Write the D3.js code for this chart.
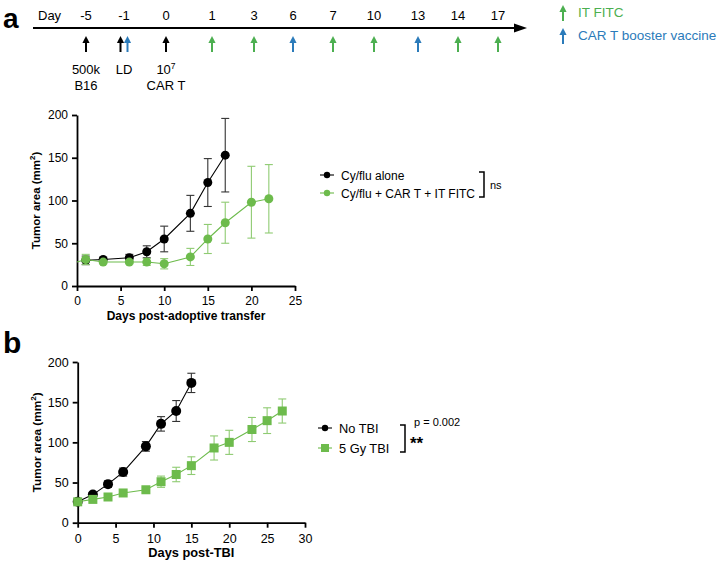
<!DOCTYPE html>
<html><head><meta charset="utf-8">
<script src="https://cdn.jsdelivr.net/npm/d3@7"></script>
<style>body{margin:0;background:#fff;font-family:Arial,"Liberation Sans",sans-serif}</style>
</head><body><svg id="c" width="722" height="569"></svg>
<script>
// ---- Timeline data ----
const timelineDays = ["-5","-1","0","1","3","6","7","10","13","14","17"];
const timelineArrows = [
  {day:"-5", type:"black"}, {day:"-1", type:"black"}, {day:"-1", type:"blue"},
  {day:"0", type:"black"}, {day:"1", type:"green"}, {day:"3", type:"green"},
  {day:"6", type:"blue"}, {day:"7", type:"green"}, {day:"10", type:"green"},
  {day:"13", type:"blue"}, {day:"14", type:"green"}, {day:"17", type:"green"}
];
const timelineNotes = [
  {day:"-5", lines:[["500k"],["B16"]]}, {day:"-1", lines:[["LD"]]}, {day:"0", lines:[["10","7"],["CAR T"]]}
];
const timelineLegend = [{type:"green", label:"IT FITC"},{type:"blue", label:"CAR T booster vaccine"}];

// ---- Panel a data ----
const aCyDays = [1,3,6,8,10,13,15,17];
const aCyMean = [30,31,33,40,55,85,121,153];
const aCyErr  = [5,2,4,7,15,21,28,43];
const aCarDays = [0,1,3,6,8,10,13,15,17,20,22];
const aCarMean = [28,31,28,28,28,26,34,55,74,98,102];
const aCarErr  = [0,6,2,2,4,6,10,17,24,42,40];
const aXTicks = [0,5,10,15,20,25];
const aYTicks = [0,50,100,150,200];

// ---- Panel b data ----
const bNoDays = [0,2,4,6,9,11,13,15];
const bNoMean = [26,35,48,63,95,123,139,174];
const bNoErr  = [2,2,4,5,6,9,13,12];
const bTbiDays = [0,2,4,6,9,11,13,15,18,20,23,25,27];
const bTbiMean = [26,29,32,37,41,51,60,71,93,100,116,127,139];
const bTbiErr  = [2,2,2,2,3,7,9,11,15,15,15,16,15];
const bXTicks = [0,5,10,15,20,25,30];
const bYTicks = [0,50,100,150,200];

const GREEN = "#6dbb4c", AGREEN = "#4caf50", BLUE = "#2b7bba";
const arrowColor = {black:"#000", green:AGREEN, blue:BLUE};
const svg = d3.select("#c");
const FONT = "Arial, 'Liberation Sans', sans-serif";

// ---- Timeline ----
svg.append("text").attr("x",3).attr("y",28).attr("font-size",28).attr("font-weight","bold").attr("font-family",FONT).text("a");
svg.append("text").attr("x",38).attr("y",20).attr("font-size",13).attr("font-family",FONT).text("Day");
const tx = d3.scalePoint().domain(timelineDays).range([86,498]);
const tpos = {"-5":86,"-1":124,"0":166,"1":212,"3":254,"6":293,"7":333,"10":374,"13":418,"14":458,"17":498};
svg.selectAll(".tday").data(timelineDays).join("text")
  .attr("x",d=>tpos[d]).attr("y",20).attr("text-anchor","middle").attr("font-size",13).attr("font-family",FONT).text(d=>d);
svg.append("line").attr("x1",33).attr("x2",518).attr("y1",28).attr("y2",28).attr("stroke","#000").attr("stroke-width",2);
svg.append("path").attr("d","M514,23.5 L527,28 L514,32.5 Z").attr("fill","#000");
function arrow(g,x,y1,y2,color){
  g.append("line").attr("x1",x).attr("x2",x).attr("y1",y1+5).attr("y2",y2).attr("stroke",color).attr("stroke-width",2);
  g.append("path").attr("d",`M${x-3.6},${y1+7} L${x},${y1} L${x+3.6},${y1+7} Z`).attr("fill",color);
}
const ag = svg.append("g");
timelineArrows.forEach(a=>{
  let x = tpos[a.day];
  if(a.day==="-1") x += (a.type==="black"? -3.5 : 3.5);
  arrow(ag,x,36,52,arrowColor[a.type]);
});
timelineNotes.forEach(n=>{
  n.lines.forEach((l,i)=>{
    const t = svg.append("text").attr("x",tpos[n.day]).attr("y",74+i*16).attr("text-anchor","middle")
      .attr("font-size",13).attr("font-family",FONT);
    t.append("tspan").text(l[0]);
    if(l[1]) t.append("tspan").attr("font-size",8.5).attr("dy",-5).text(l[1]);
  });
});
timelineLegend.forEach((l,i)=>{
  const y = 5+i*23;
  arrow(svg,563,y,y+16,arrowColor[l.type]);
  svg.append("text").attr("x",578).attr("y",y+12).attr("font-size",13.5).attr("font-family",FONT)
    .attr("fill",arrowColor[l.type]).text(l.label);
});

// ---- Generic chart ----
function chart(opt){
  const g = svg.append("g");
  const x = d3.scaleLinear().domain(opt.xDomain).range([opt.x0,opt.x1]);
  const y = d3.scaleLinear().domain([0,200]).range([opt.y0,opt.y1]);
  const xa = g.append("g").attr("transform",`translate(0,${opt.y0})`)
    .call(d3.axisBottom(x).tickValues(opt.xTicks).tickSize(5).tickSizeOuter(0));
  const ya = g.append("g").attr("transform",`translate(${opt.x0},0)`)
    .call(d3.axisLeft(y).tickValues(opt.yTicks).tickSize(5).tickSizeOuter(0));
  [xa,ya].forEach(a=>{
    a.selectAll("path,line").attr("stroke","#000").attr("stroke-width",1.8);
    a.selectAll("text").attr("font-size",opt.tickFont).attr("font-family",FONT).attr("fill","#000");
  });
  xa.selectAll("text").attr("dy","0.95em");
  ya.selectAll("text").attr("dx","-1");
  g.append("text").attr("x",(opt.x0+opt.x1)/2).attr("y",opt.y0+34).attr("text-anchor","middle")
    .attr("font-size",opt.titleFont).attr("font-weight","bold").attr("font-family",FONT).text(opt.xTitle);
  const yt = g.append("text").attr("transform",`translate(${opt.x0-37},${(opt.y0+opt.y1)/2}) rotate(-90)`)
    .attr("text-anchor","middle").attr("font-size",opt.yTitleFont).attr("font-weight","bold").attr("font-family",FONT);
  yt.append("tspan").text("Tumor area (mm");
  yt.append("tspan").attr("font-size",opt.yTitleFont*0.68).attr("dy",-5).text("2");
  yt.append("tspan").attr("dy",5).text(")");
  opt.series.forEach(s=>{
    const pts = s.days.map((d,i)=>({d, m:s.mean[i], e:s.err[i]}));
    g.append("path").datum(pts).attr("fill","none").attr("stroke",s.color).attr("stroke-width",1.1)
      .attr("d",d3.line().x(p=>x(p.d)).y(p=>y(p.m)));
    const eb = g.append("g").attr("stroke",s.ecolor).attr("stroke-width",1.1);
    pts.filter(p=>p.e>0).forEach(p=>{
      eb.append("line").attr("x1",x(p.d)).attr("x2",x(p.d)).attr("y1",y(p.m-p.e)).attr("y2",y(p.m+p.e));
      [p.m-p.e,p.m+p.e].forEach(v=>eb.append("line").attr("x1",x(p.d)-4).attr("x2",x(p.d)+4).attr("y1",y(v)).attr("y2",y(v)));
    });
    const mk = pts.filter(p=>!(s.skipZero && p.d===0));
    if(s.shape==="square"){
      g.selectAll(null).data(mk).join("rect").attr("x",p=>x(p.d)-4.5).attr("y",p=>y(p.m)-4.5)
        .attr("width",9).attr("height",9).attr("fill",s.color);
    } else {
      g.selectAll(null).data(mk).join("circle").attr("cx",p=>x(p.d)).attr("cy",p=>y(p.m)).attr("r",s.r).attr("fill",s.color);
    }
  });
  // legend
  opt.series.forEach((s,i)=>{
    const ly = opt.legY + i*opt.legGap;
    g.append("line").attr("x1",opt.legX).attr("x2",opt.legX+14).attr("y1",ly).attr("y2",ly).attr("stroke",s.color).attr("stroke-width",1.1);
    if(s.shape==="square") g.append("rect").attr("x",opt.legX+3).attr("y",ly-4).attr("width",8).attr("height",8).attr("fill",s.color);
    else g.append("circle").attr("cx",opt.legX+7).attr("cy",ly).attr("r",3.2).attr("fill",s.color);
    g.append("text").attr("x",opt.legX+21).attr("y",ly+4.5).attr("font-size",opt.legFont).attr("font-family",FONT).text(s.name);
  });
  const bx = opt.brX, b1 = opt.legY-3, b2 = opt.legY+opt.legGap+4;
  g.append("path").attr("d",`M${bx-5},${b1} H${bx} V${b2} H${bx-5}`).attr("fill","none").attr("stroke","#000").attr("stroke-width",1.5);
  return g;
}

const ga = chart({
  x0:77, x1:295, y0:286, y1:115, xDomain:[0,25], xTicks:aXTicks, yTicks:aYTicks,
  xTitle:"Days post-adoptive transfer", tickFont:12, titleFont:12, yTitleFont:11.5, legFont:12,
  series:[
    {name:"Cy/flu alone", days:aCyDays, mean:aCyMean, err:aCyErr, color:"#000", ecolor:"#333", r:4.5},
    {name:"Cy/flu + CAR T + IT FITC", days:aCarDays, mean:aCarMean, err:aCarErr, color:GREEN, ecolor:"#8fcb72", r:4.5, skipZero:true}
  ],
  legX:320, legY:175, legGap:18, brX:484
});
ga.append("text").attr("x",490).attr("y",189).attr("font-size",11).attr("font-family",FONT).text("ns");

svg.append("text").attr("x",3).attr("y",353).attr("font-size",30).attr("font-weight","bold").attr("font-family",FONT).text("b");
const gb = chart({
  x0:77.7, x1:305, y0:522.7, y1:362, xDomain:[0,30], xTicks:bXTicks, yTicks:bYTicks,
  xTitle:"Days post-TBI", tickFont:12.5, titleFont:12.8, yTitleFont:11.8, legFont:12.8,
  series:[
    {name:"No TBI", days:bNoDays, mean:bNoMean, err:bNoErr, color:"#000", ecolor:"#333", r:5},
    {name:"5 Gy TBI", days:bTbiDays, mean:bTbiMean, err:bTbiErr, color:GREEN, ecolor:"#8fcb72", shape:"square"}
  ],
  legX:318, legY:428, legGap:20, brX:405
});
gb.append("text").attr("x",414).attr("y",426).attr("font-size",11).attr("font-family",FONT).text("p = 0.002");
gb.append("text").attr("x",410).attr("y",449).attr("font-size",17).attr("font-weight","bold").attr("font-family",FONT).text("**");
</script></body></html>
